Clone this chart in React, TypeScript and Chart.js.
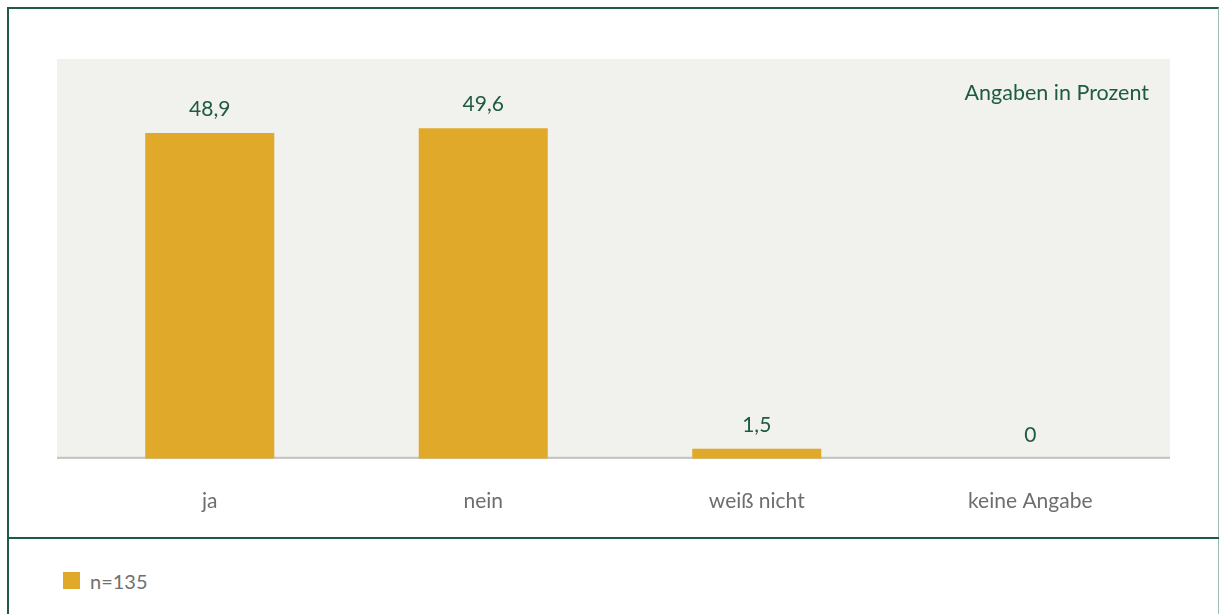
import React, { useEffect, useRef } from "react";
import { Chart, registerables } from "chart.js";

Chart.register(...registerables);

const categories = ["ja", "nein", "weiß nicht", "keine Angabe"];
const values = [48.9, 49.6, 1.5, 0];
const valueLabels = ["48,9", "49,6", "1,5", "0"];
const seriesLabel = "n=135";
const unitNote = "Angaben in Prozent";
const yMin = 0;
const yMax = 60;

const GREEN = "#1e5a45";
const GOLD = "#e1a92a";
const PLOT_BG = "#f1f1ed";
const AXIS_GRAY = "#c2c2c2";
const LABEL_GRAY = "#6e6e6e";
const FONT = "Lato, 'Open Sans', sans-serif";

const decorPlugin = {
  id: "decor",
  beforeDraw(chart: any) {
    const { ctx, chartArea: a } = chart;
    ctx.save();
    ctx.fillStyle = PLOT_BG;
    ctx.fillRect(a.left - 16, a.top, a.right - a.left + 19, a.bottom - a.top);
    ctx.fillStyle = AXIS_GRAY;
    ctx.fillRect(a.left - 16, a.bottom - 2, a.right - a.left + 19, 2);
    ctx.fillStyle = GREEN;
    ctx.font = `21.5px ${FONT}`;
    ctx.textAlign = "right";
    ctx.textBaseline = "alphabetic";
    ctx.fillText(unitNote, a.right - 18, a.top + 41);
    ctx.restore();
  },
  afterDatasetsDraw(chart: any) {
    const { ctx } = chart;
    const meta = chart.getDatasetMeta(0);
    ctx.save();
    ctx.fillStyle = GREEN;
    ctx.font = `21px ${FONT}`;
    ctx.textAlign = "center";
    ctx.textBaseline = "alphabetic";
    meta.data.forEach((el: any, i: number) => {
      ctx.fillText(valueLabels[i], el.x, el.y - 17);
    });
    ctx.restore();
  },
};

function BarChart() {
  const ref = useRef<HTMLCanvasElement | null>(null);
  useEffect(() => {
    if (!ref.current) return;
    const chart = new Chart(ref.current, {
      type: "bar",
      data: {
        labels: categories,
        datasets: [
          {
            label: seriesLabel,
            data: values,
            backgroundColor: GOLD,
            borderWidth: 0,
            categoryPercentage: 1,
            barPercentage: 0.4717,
          },
        ],
      },
      options: {
        animation: false,
        responsive: false,
        maintainAspectRatio: false,
        layout: { padding: { top: 50, left: 64, right: 51, bottom: 0 } },
        plugins: {
          legend: { display: false },
          tooltip: { enabled: false },
        },
        scales: {
          x: {
            grid: { display: false, drawTicks: false },
            border: { display: false },
            ticks: {
              color: LABEL_GRAY,
              font: { family: FONT, size: 21 },
              padding: 30,
            },
          },
          y: {
            display: false,
            min: yMin,
            max: yMax,
          },
        },
      },
      plugins: [decorPlugin],
    });
    return () => chart.destroy();
  }, []);
  return (
    <canvas
      ref={ref}
      width={1209}
      height={535}
      style={{ position: "absolute", left: 9, top: 9, width: 1209, height: 535 }}
    />
  );
}

export default function App() {
  return (
    <div
      style={{
        position: "absolute",
        left: 0,
        top: 0,
        width: 1219,
        height: 614,
        overflow: "hidden",
        background: "#ffffff",
        fontFamily: FONT,
      }}
    >
      <div
        style={{
          position: "absolute",
          left: 7,
          top: 7,
          width: 1212,
          height: 620,
          boxSizing: "border-box",
          borderLeft: `2px solid ${GREEN}`,
          borderTop: `2px solid ${GREEN}`,
          borderRight: "1px solid #9dbdae",
        }}
      />
      <BarChart />
      <div
        style={{
          position: "absolute",
          left: 7,
          top: 537,
          width: 1212,
          height: 2,
          background: GREEN,
        }}
      />
      <div
        style={{
          position: "absolute",
          left: 63,
          top: 572,
          width: 17,
          height: 17,
          background: GOLD,
        }}
      />
      <div
        style={{
          position: "absolute",
          left: 90,
          top: 569,
          height: 24,
          lineHeight: "24px",
          fontSize: 20,
          color: "#707070",
          whiteSpace: "nowrap",
        }}
      >
        {seriesLabel}
      </div>
    </div>
  );
}
